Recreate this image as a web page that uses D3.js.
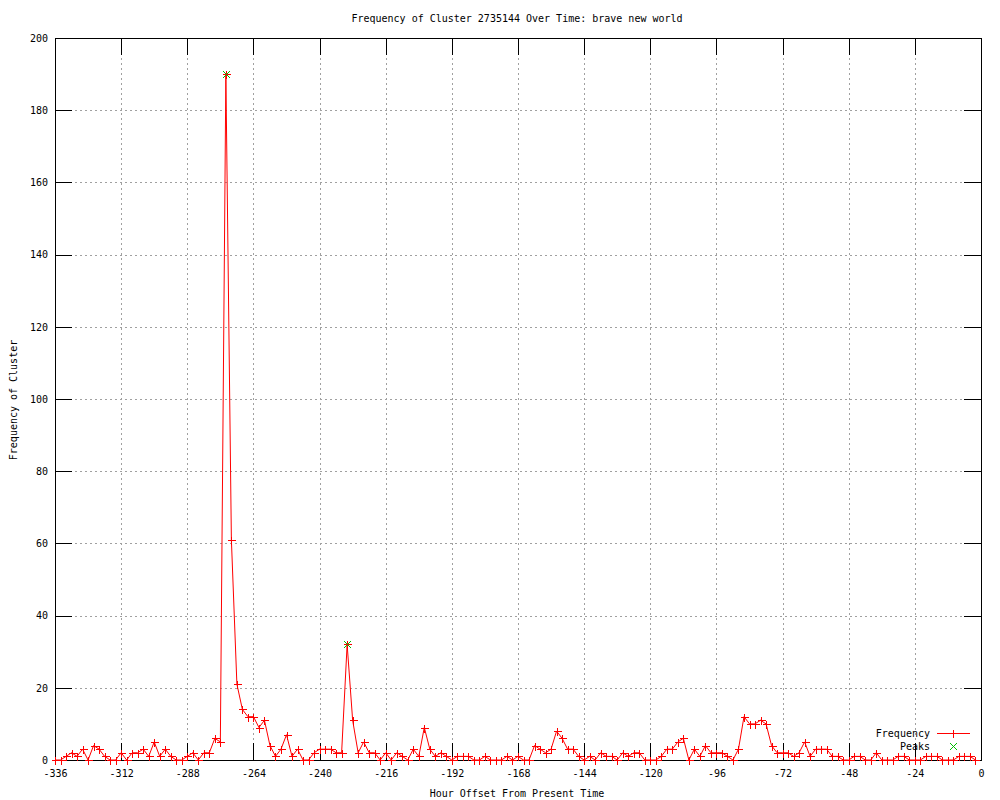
<!DOCTYPE html>
<html>
<head>
<meta charset="utf-8">
<script src="https://cdn.jsdelivr.net/npm/d3@7"></script>
<style>
  html, body { margin: 0; padding: 0; background: #fff; }
  svg { display: block; }
  text { font-family: "DejaVu Sans Mono", "Liberation Mono", monospace; font-size: 10px; fill: #000; }
</style>
</head>
<body>
<svg id="chart" width="1000" height="800"></svg>
<script>
// ---- data ----
const titleText = "Frequency of Cluster 2735144 Over Time: brave new world";
const xAxisTitle = "Hour Offset From Present Time";
const yAxisTitle = "Frequency of Cluster";
const hourStart = -336, hourStep = 2;
const frequency = [
  0, 0, 1, 2, 1, 3, 0, 4, 3, 1,      // -336 .. -318
  0, 0, 2, 0, 2, 2, 3, 1, 5, 1,      // -316 .. -298
  3, 1, 0, 0, 1, 2, 0, 2, 2, 6,      // -296 .. -278
  5, 190, 61, 21, 14, 12, 12, 9, 11, 4, // -276 .. -258
  1, 3, 7, 1, 3, 0, 0, 2, 3, 3,      // -256 .. -238
  3, 2, 2, 32, 11, 2, 5, 2, 2, 0,    // -236 .. -218
  2, 0, 2, 1, 0, 3, 1, 9, 3, 1,      // -216 .. -198
  2, 1, 0, 1, 1, 1, 0, 0, 1, 0,      // -196 .. -178
  0, 0, 1, 0, 1, 0, 0, 4, 3, 2,      // -176 .. -158
  3, 8, 6, 3, 3, 1, 0, 1, 0, 2,      // -156 .. -138
  1, 1, 0, 2, 1, 2, 2, 0, 0, 0,      // -136 .. -118
  1, 3, 3, 5, 6, 0, 3, 1, 4, 2,      // -116 .. -98
  2, 2, 1, 0, 3, 12, 10, 10, 11, 10, // -96 .. -78
  4, 2, 2, 2, 1, 2, 5, 1, 3, 3,      // -76 .. -58
  3, 1, 1, 0, 0, 1, 1, 0, 0, 2,      // -56 .. -38
  0, 0, 0, 1, 1, 0, 0, 0, 1, 1,      // -36 .. -18
  1, 0, 0, 0, 1, 1, 1, 0             // -16 .. -2
];
const hours = d3.range(frequency.length).map(i => hourStart + i * hourStep);
const peakHours = [-274, -230];
const peakValues = [190, 32];
const xTicks = d3.range(-336, 1, 24);
const yTicks = d3.range(0, 201, 20);
const legendLabels = ["Frequency", "Peaks"];

// ---- layout ----
const svg = d3.select("#chart");
const L = 55, R = 981, T = 38, B = 760;
const x = d3.scaleLinear().domain([-336, 0]).range([L, R]);
const y = d3.scaleLinear().domain([0, 200]).range([B, T]);
const tick = 17;
const red = "#ff0000", green = "#00c000";

// grid
const grid = svg.append("g").attr("shape-rendering", "crispEdges")
  .attr("stroke", "#a0a0a0").attr("stroke-dasharray", "2,3").attr("stroke-width", 1);
xTicks.slice(1, -1).forEach(t => {
  grid.append("line").attr("x1", Math.round(x(t)) + 0.5).attr("x2", Math.round(x(t)) + 0.5)
    .attr("y1", T).attr("y2", B);
});
yTicks.slice(1, -1).forEach(t => {
  grid.append("line").attr("y1", Math.round(y(t)) + 0.5).attr("y2", Math.round(y(t)) + 0.5)
    .attr("x1", L).attr("x2", R);
});

// axes using d3 axis generators (inward ticks, mirrored)
function styleAxis(g) {
  g.attr("shape-rendering", "crispEdges");
  g.select(".domain").remove();
  g.selectAll(".tick line").attr("stroke", "#000");
  g.selectAll("text").attr("fill", "#000")
    .style("font-family", "'DejaVu Sans Mono', monospace").style("font-size", "10px");
}
const xb = svg.append("g").attr("transform", `translate(0,${B})`)
  .call(d3.axisBottom(x).tickValues(xTicks).tickSizeInner(-tick).tickSizeOuter(0).tickFormat(d3.format("d")));
styleAxis(xb);
xb.selectAll("text").attr("y", 10).text(d => String(d));
const xt = svg.append("g").attr("transform", `translate(0,${T})`)
  .call(d3.axisTop(x).tickValues(xTicks).tickSizeInner(-tick).tickSizeOuter(0).tickFormat(""));
styleAxis(xt);
const yl = svg.append("g").attr("transform", `translate(${L},0)`)
  .call(d3.axisLeft(y).tickValues(yTicks).tickSizeInner(-tick).tickSizeOuter(0));
styleAxis(yl);
yl.selectAll("text").attr("x", -7);
const yr = svg.append("g").attr("transform", `translate(${R},0)`)
  .call(d3.axisRight(y).tickValues(yTicks).tickSizeInner(-tick).tickSizeOuter(0).tickFormat(""));
styleAxis(yr);
// border
svg.append("rect").attr("x", L + 0.5).attr("y", T + 0.5).attr("width", R - L).attr("height", B - T)
  .attr("fill", "none").attr("stroke", "#000").attr("shape-rendering", "crispEdges");

// data line
const line = d3.line().x((d, i) => x(hours[i])).y(d => y(d));
svg.append("path").datum(frequency).attr("d", line)
  .attr("fill", "none").style("stroke", red).attr("stroke-width", 1);

// cross markers
const cs = 4;
function plus(g, cx, cy, color) {
  const px = Math.round(cx) + 0.5, py = Math.round(cy) + 0.5;
  g.append("path").attr("d", `M${px - cs},${py}H${px + cs}M${px},${py - cs}V${py + cs}`)
    .style("stroke", color).attr("stroke-width", 1).attr("fill", "none").attr("shape-rendering", "crispEdges");
}
function xmark(g, cx, cy, color) {
  const px = Math.round(cx) + 0.5, py = Math.round(cy) + 0.5, s = 3.5;
  g.append("path").attr("d", `M${px - s},${py - s}L${px + s},${py + s}M${px - s},${py + s}L${px + s},${py - s}`)
    .style("stroke", color).attr("stroke-width", 1).attr("fill", "none").attr("shape-rendering", "crispEdges");
}
const marks = svg.append("g");
frequency.forEach((v, i) => plus(marks, x(hours[i]), y(v), red));
peakHours.forEach((h, i) => xmark(marks, x(h), y(peakValues[i]), green));

// title & axis titles
svg.append("text").attr("x", 517).attr("y", 22).attr("text-anchor", "middle").text(titleText);
svg.append("text").attr("x", 517).attr("y", 797).attr("text-anchor", "middle").text(xAxisTitle);
svg.append("text").attr("transform", "translate(17,400) rotate(-90)").attr("text-anchor", "middle").text(yAxisTitle);

// legend
const lg = svg.append("g");
lg.append("text").attr("x", 930).attr("y", 737).attr("text-anchor", "end").text(legendLabels[0]);
lg.append("text").attr("x", 930).attr("y", 750).attr("text-anchor", "end").text(legendLabels[1]);
lg.append("path").attr("d", "M937,733.5H970")
  .style("stroke", red).attr("stroke-width", 1).attr("fill", "none").attr("shape-rendering", "crispEdges");
plus(lg, 953, 733, red);
xmark(lg, 953, 746, green);
</script>
</body>
</html>
